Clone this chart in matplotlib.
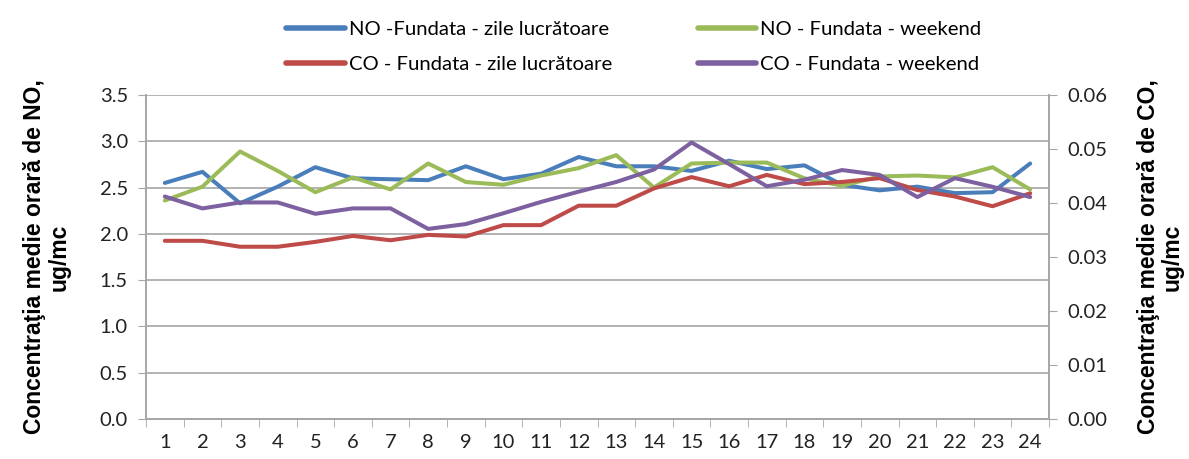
import matplotlib
matplotlib.use("Agg")
import matplotlib.pyplot as plt
from matplotlib.ticker import FixedLocator, MultipleLocator, FormatStrFormatter

hours = list(range(1, 25))
no_work = [2.55, 2.67, 2.33, 2.51, 2.72, 2.60, 2.59, 2.58, 2.73, 2.59, 2.65, 2.83,
           2.73, 2.73, 2.68, 2.79, 2.70, 2.74, 2.53, 2.47, 2.51, 2.44, 2.45, 2.76]
no_weekend = [2.36, 2.51, 2.89, 2.68, 2.45, 2.61, 2.48, 2.76, 2.56, 2.53, 2.63, 2.71,
              2.85, 2.50, 2.76, 2.77, 2.77, 2.60, 2.52, 2.62, 2.63, 2.61, 2.72, 2.48]
co_work = [0.0330, 0.0330, 0.0319, 0.0319, 0.0328, 0.0339, 0.0331, 0.0341, 0.0338, 0.0359,
           0.0359, 0.0395, 0.0395, 0.0427, 0.0448, 0.0431, 0.0452, 0.0435, 0.0439, 0.0446,
           0.0424, 0.0412, 0.0394, 0.0418]
co_weekend = [0.0412, 0.0390, 0.0401, 0.0401, 0.0380, 0.0390, 0.0390, 0.0352, 0.0361, 0.0381,
              0.0402, 0.0421, 0.0439, 0.0462, 0.0512, 0.0472, 0.0431, 0.0443, 0.0461, 0.0452,
              0.0411, 0.0446, 0.0430, 0.0411]

labels = ["NO -Fundata - zile lucrătoare", "NO - Fundata - weekend",
          "CO - Fundata - zile lucrătoare", "CO - Fundata - weekend"]
colors = ["#4A7EBB", "#9BBB59", "#BE4B48", "#7D60A0"]

tick_font = "Lato"
grid_c = "#A6A6A6"
tick_size = 14.5

fig = plt.figure(figsize=(11.89, 4.59), dpi=100)
ax = fig.add_axes([146/1189, 1 - 419/459, (1049 - 146)/1189, (419 - 95)/459])
ax2 = ax.twinx()

lw = 2.9
l1, = ax.plot(hours, no_work, color=colors[0], lw=lw, solid_capstyle="round", zorder=3)
l2, = ax.plot(hours, no_weekend, color=colors[1], lw=lw, solid_capstyle="round", zorder=3)
l3, = ax2.plot(hours, co_work, color=colors[2], lw=lw, solid_capstyle="round", zorder=3)
l4, = ax2.plot(hours, co_weekend, color=colors[3], lw=lw, solid_capstyle="round", zorder=3)

ax.set_xlim(0.5, 24.5)
ax.set_ylim(0, 3.5)
ax2.set_ylim(0, 0.06)
ax.yaxis.set_major_locator(MultipleLocator(0.5))
ax2.yaxis.set_major_locator(MultipleLocator(0.01))
ax.set_xticks(hours)
ax.set_xticklabels([str(h) for h in hours])
ax.xaxis.set_minor_locator(FixedLocator([h + 0.5 for h in range(0, 25)]))
ax.tick_params(axis="x", which="major", length=0, pad=11)
ax.tick_params(axis="x", which="minor", length=6, color=grid_c, direction="out")
ax.tick_params(axis="y", length=6, color=grid_c, pad=7)
ax2.tick_params(axis="y", length=6, color=grid_c, pad=7)
ax.yaxis.set_major_formatter(FormatStrFormatter("%.1f"))
ax2.yaxis.set_major_formatter(FormatStrFormatter("%.2f"))
for lab in ax.get_xticklabels() + ax.get_yticklabels() + ax2.get_yticklabels():
    lab.set_fontfamily(tick_font)
    lab.set_fontsize(tick_size)
    lab.set_color("#222222")

ax.grid(axis="y", color=grid_c, lw=1.2)
ax.set_axisbelow(True)
for a in (ax, ax2):
    for s in a.spines.values():
        s.set_color(grid_c)
        s.set_linewidth(1.2)
    a.spines["top"].set_visible(False)

lab_kw = dict(fontfamily="Liberation Sans", fontweight="bold", fontsize=16.5, linespacing=1.05)
ax.set_ylabel("Concentraţia medie orară de NO,\nug/mc", **lab_kw)
ax.yaxis.set_label_coords(-0.084, 0.5)
ax2.set_ylabel("Concentraţia medie orară de CO,\nug/mc", **lab_kw)
ax2.yaxis.set_label_coords(1.097, 0.5)

leg = fig.legend([l1, l3, l2, l4], [labels[0], labels[2], labels[1], labels[3]],
                 ncol=2, loc="upper left",
                 bbox_to_anchor=(268/1189, 1 - 3/459), frameon=False,
                 prop={"family": tick_font, "size": 14.6},
                 handlelength=2.9, handletextpad=0.2, columnspacing=4.2,
                 labelspacing=0.85)
for line in leg.get_lines():
    line.set_linewidth(4)

fig.savefig("out.png", dpi=100)
